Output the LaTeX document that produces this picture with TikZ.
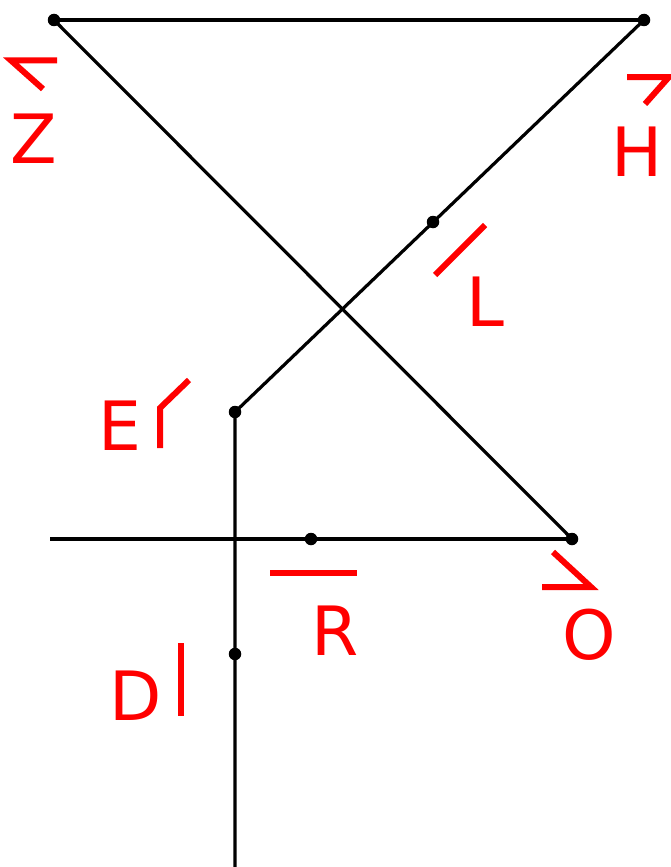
\documentclass[tikz,border=0pt]{standalone}
\usepackage{fontspec}
\setmainfont{DejaVu Sans}
\begin{document}
\begin{tikzpicture}[x=1pt,y=-1pt,
  seg/.style={line width=3.2pt,black},
  pt/.style={circle,fill=black,inner sep=0pt,minimum size=12.5pt},
  mk/.style={line width=6pt,red},
  lab/.style={text=red,font=\fontsize{68}{68}\selectfont,inner sep=0pt,anchor=center}]
\useasboundingbox (0,0) rectangle (671,867);
\coordinate (Zp) at (54,20);
\coordinate (Hp) at (644,20);
\coordinate (Lp) at (433,222);
\coordinate (Ep) at (235,412);
\coordinate (Op) at (572,539);
\coordinate (Rp) at (311,539);
\coordinate (Dp) at (235,654);
\coordinate (left) at (50,539);
\coordinate (bot) at (235,870);
\draw[seg] (Zp) -- (Hp);
\draw[seg] (Zp) -- (Op);
\draw[seg] (Hp) -- (Ep) -- (bot);
\draw[seg] (left) -- (Op);
\foreach \p in {Zp,Hp,Lp,Ep,Op,Rp,Dp} \node[pt] at (\p) {};
% red marks
\draw[mk] (57,60.5) -- (11,60.5) -- (43,89);
\draw[mk] (627,77) -- (669,77) -- (645,104);
\draw[mk] (485,225) -- (435,275);
\draw[mk] (160,448) -- (160,408) -- (189,380);
\draw[mk] (270,573) -- (357,573);
\draw[mk] (542,587) -- (591,587) -- (553,552);
\draw[mk] (181,643) -- (181,716);
% labels
\node[lab] (Z) at (34,139) {\vphantom{Z}Z};
\node[lab] (H) at (637,152) {H};
\node[lab] (L) at (485,302) {L};
\node[lab] (E) at (120,426) {E};
\node[lab] (R) at (335,631) {R};
\node[lab] (O) at (589,635) {O};
\node[lab] (D) at (136,696) {D};
\end{tikzpicture}
\end{document}
